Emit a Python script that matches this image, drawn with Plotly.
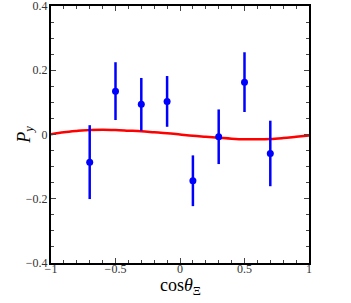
import plotly.graph_objects as go

cos_theta = [-0.7, -0.5, -0.3, -0.1, 0.1, 0.3, 0.5, 0.7]
py_values = [-0.086, 0.135, 0.094, 0.103, -0.144, -0.007, 0.163, -0.059]
py_errors = [0.115, 0.090, 0.082, 0.079, 0.079, 0.085, 0.093, 0.102]

curve_x = [-1.0, -0.9, -0.8, -0.7, -0.6, -0.5, -0.4, -0.3, -0.2, -0.1, 0.0,
           0.1, 0.2, 0.3, 0.4, 0.5, 0.6, 0.7, 0.8, 0.9, 1.0]
curve_y = [0.001, 0.007, 0.011, 0.014, 0.015, 0.014, 0.012, 0.010, 0.007, 0.004, 0.000,
           -0.004, -0.007, -0.010, -0.013, -0.015, -0.015, -0.014, -0.011, -0.007, -0.003]

x_ticks = [-1, -0.5, 0, 0.5, 1]
x_tick_labels = ["\u22121", "\u22120.5", "0", "0.5", "1"]
y_ticks = [-0.4, -0.2, 0, 0.2, 0.4]
y_tick_labels = ["\u22120.4", "\u22120.2", "0", "0.2", "0.4"]

x_title = "cos<i>θ</i><sub>Ξ</sub>"
y_title = "<i>P</i><sub><i>y</i></sub>"

font_serif = "Liberation Serif"

fig = go.Figure()
fig.add_trace(go.Scatter(
    x=curve_x, y=curve_y, mode="lines",
    line=dict(color="#ff0000", width=2.5, shape="spline"),
    hoverinfo="skip", showlegend=False,
))
fig.add_trace(go.Scatter(
    x=cos_theta, y=py_values, mode="markers",
    marker=dict(color="#0000ff", size=7),
    error_y=dict(type="data", array=py_errors, color="#0000ff", thickness=2.5, width=0),
    showlegend=False,
))

axis_common = dict(
    showline=True, linecolor="black", linewidth=2, mirror="allticks",
    ticks="inside", ticklen=5, tickwidth=1, tickcolor="#444",
    showgrid=False, zeroline=False, automargin=False, ticklabeloverflow="allow",
    tickfont=dict(family=font_serif, size=12, color="#333"),
)

fig.update_xaxes(
    range=[-1, 1], tickvals=x_ticks, ticktext=x_tick_labels,
    minor=dict(ticks="inside", dtick=0.1, tick0=0, ticklen=3, tickcolor="#444", showgrid=False),
    ticklabelstandoff=-6,
    **axis_common,
)
fig.update_yaxes(
    range=[-0.4, 0.4], tickvals=y_ticks, ticktext=y_tick_labels,
    minor=dict(ticks="inside", dtick=0.05, tick0=0, ticklen=3, tickcolor="#444", showgrid=False),
    ticklabelstandoff=-1,
    **axis_common,
)

fig.add_annotation(
    text=x_title, xref="paper", yref="paper", x=0.5, y=-0.093,
    xanchor="center", yanchor="middle", showarrow=False,
    font=dict(family=font_serif, size=18, color="black"),
)
fig.add_annotation(
    text=y_title, xref="paper", yref="paper", x=-0.10, y=0.5,
    xanchor="center", yanchor="middle", showarrow=False, textangle=-90,
    font=dict(family=font_serif, size=18, color="black"),
)

fig.update_layout(
    width=351, height=303,
    margin=dict(l=51, r=42, t=6, b=40),
    plot_bgcolor="white", paper_bgcolor="white",
    font=dict(family=font_serif, color="#333"),
)

fig.write_html(
    "out.html",
    config={"displayModeBar": False},
    post_script="document.body.style.margin='0';document.body.style.overflow='hidden';",
)
